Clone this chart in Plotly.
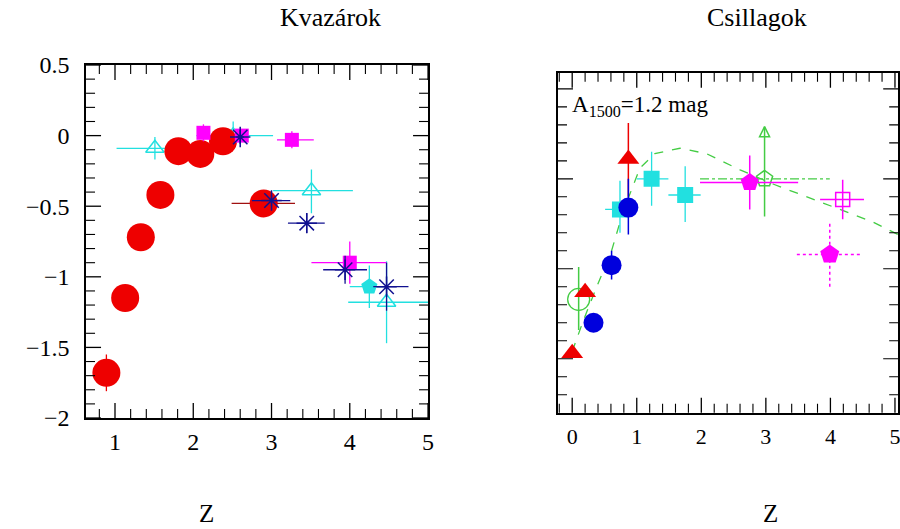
import numpy as np
import plotly.graph_objects as go

# ---------------- Left panel: Kvazárok ----------------
qc_x = [0.89, 1.13, 1.33, 1.58, 1.81, 2.09, 2.38, 2.90]
qc_y = [-1.68, -1.15, -0.72, -0.42, -0.11, -0.13, -0.04, -0.48]
qc_xm = [0, 0, 0, 0, 0, 0, 0, 0.41]
qc_xp = [0, 0, 0, 0, 0, 0, 0, 0.40]
qc_ey = [0.13, 0, 0, 0, 0, 0, 0, 0]

qt_x = [1.51, 2.51, 3.51, 4.47]
qt_y = [-0.09, 0.0, -0.39, -1.18]
qt_xm = [0.49, 0.47, 0.49, 0.49]
qt_xp = [0.49, 0.51, 0.53, 0.53]
qt_yp = [0.08, 0.10, 0.15, 0.29]
qt_ym = [0.08, 0.10, 0.16, 0.29]

qp_x = [4.25]
qp_y = [-1.07]
qp_xm = [0.25]
qp_xp = [0.22]
qp_ey = [0.15]

qs_x = [2.13, 2.62, 3.26, 4.00]
qs_y = [0.02, 0.0, -0.03, -0.90]
qs_xm = [0.05, 0.05, 0.19, 0.49]
qs_xp = [0.05, 0.05, 0.28, 0.47]
qs_ey = [0.06, 0.04, 0.06, 0.15]

qa_x = [2.60, 3.00, 3.45, 3.94, 4.47]
qa_y = [-0.01, -0.46, -0.62, -0.95, -1.07]
qa_xm = [0.05, 0.25, 0.24, 0.28, 0.17]
qa_xp = [0.05, 0.24, 0.23, 0.28, 0.28]
qa_ey = [0.05, 0.04, 0.07, 0.10, 0.17]

# ---------------- Right panel: Csillagok ----------------
st_x = [0.0, 0.20, 0.87]
st_y = [-1.97, -1.63, -0.89]
st_yp = [0, 0, 0.20]
st_ym = [0, 0, 0.21]

sc_x = [0.33, 0.61, 0.87]
sc_y = [-1.80, -1.48, -1.16]
sc_yp = [0, 0.08, 0.16]
sc_ym = [0, 0.08, 0.15]

ss_x = [0.74, 1.23, 1.75]
ss_y = [-1.17, -1.00, -1.09]
ss_xm = [0.23, 0.23, 0.26]
ss_xp = [0.23, 0.26, 0.24]
ss_yp = [0.16, 0.15, 0.16]
ss_ym = [0.13, 0.15, 0.15]

sp_x = [2.75]
sp_y = [-1.02]
sp_xm = [0.77]
sp_xp = [0.75]
sp_ey = [0.15]

sd_x = 3.99
sd_y = -1.42
sd_xm = 0.51
sd_xp = 0.49
sd_yp = 0.18
sd_ym = 0.18

so_x = [4.19]
so_y = [-1.115]
so_xm = [0.35]
so_xp = [0.33]
so_ey = [0.11]

gl_x = 2.98
gl_y = -1.00
gl_xm = 1.00
gl_xp = 1.01
gl_ym = 0.21
gl_up = 0.29

gc_x = [0.10]
gc_y = [-1.67]
gc_yp = [0.18]
gc_ym = [0.17]

curve_x = [0.0, 0.17, 0.38, 0.61, 0.79, 1.05, 1.28, 1.67, 2.08, 2.60, 3.12, 3.63, 4.05, 4.66, 5.05]
curve_y = [-1.96, -1.79, -1.60, -1.40, -1.18, -0.94, -0.86, -0.83, -0.86, -0.95, -1.03, -1.10, -1.16, -1.24, -1.31]

RED = "#ee0000"
CYAN = "#22e0e0"
MAG = "#ff00ff"
NAVY = "#101090"
BLUE = "#0000dd"
GREEN = "#44cc44"

fig = go.Figure()

def eb(arr, arrm, color, w=1.3):
    return dict(type="data", array=arr, arrayminus=arrm, color=color, thickness=w, width=0, symmetric=False)

# left panel traces
fig.add_trace(go.Scatter(x=qt_x, y=qt_y, mode="markers", xaxis="x", yaxis="y",
    marker=dict(symbol="triangle-up-open", size=16, color=CYAN, line=dict(width=1.5, color=CYAN)),
    error_x=eb(qt_xp, qt_xm, CYAN), error_y=eb(qt_yp, qt_ym, CYAN)))
fig.add_trace(go.Scatter(x=qc_x, y=qc_y, mode="markers", xaxis="x", yaxis="y",
    marker=dict(symbol="circle", size=28, color=RED),
    error_x=eb(qc_xp, qc_xm, "#a01010"), error_y=eb(qc_ey, qc_ey, RED)))
fig.add_trace(go.Scatter(x=qs_x, y=qs_y, mode="markers", xaxis="x", yaxis="y",
    marker=dict(symbol="square", size=14, color=MAG),
    error_x=eb(qs_xp, qs_xm, MAG), error_y=eb(qs_ey, qs_ey, MAG)))
fig.add_trace(go.Scatter(x=qp_x, y=qp_y, mode="markers", xaxis="x", yaxis="y",
    marker=dict(symbol="pentagon", size=17, color=CYAN),
    error_x=eb(qp_xp, qp_xm, CYAN), error_y=eb(qp_ey, qp_ey, CYAN)))
fig.add_trace(go.Scatter(x=qa_x, y=qa_y, mode="markers", xaxis="x", yaxis="y",
    marker=dict(symbol="asterisk-open", size=17, color=NAVY, line=dict(width=1.5, color=NAVY)),
    error_x=eb(qa_xp, qa_xm, NAVY), error_y=eb(qa_ey, qa_ey, NAVY)))

# right panel traces
fig.add_trace(go.Scatter(x=curve_x, y=curve_y, mode="lines", xaxis="x2", yaxis="y2",
    line=dict(color=GREEN, width=1.3, dash="dash")))
fig.add_trace(go.Scatter(x=[gl_x - gl_xm, gl_x + gl_xp], y=[gl_y, gl_y], mode="lines",
    xaxis="x2", yaxis="y2", line=dict(color=GREEN, width=1.3, dash="dashdot")))
fig.add_trace(go.Scatter(x=[gl_x, gl_x], y=[gl_y - gl_ym, gl_y + gl_up], mode="lines",
    xaxis="x2", yaxis="y2", line=dict(color=GREEN, width=1.5)))
fig.add_trace(go.Scatter(x=[gl_x], y=[gl_y + gl_up], mode="markers", xaxis="x2", yaxis="y2",
    marker=dict(symbol="arrow-up-open", size=10, color=GREEN, line=dict(width=1.5, color=GREEN))))
fig.add_trace(go.Scatter(x=[gl_x], y=[gl_y], mode="markers", xaxis="x2", yaxis="y2",
    marker=dict(symbol="pentagon-open", size=17, color=GREEN, line=dict(width=1.5, color=GREEN))))
fig.add_trace(go.Scatter(x=gc_x, y=gc_y, mode="markers", xaxis="x2", yaxis="y2",
    marker=dict(symbol="circle-open", size=22, color=GREEN, line=dict(width=1.3, color=GREEN)),
    error_y=eb(gc_yp, gc_ym, GREEN, 1.5)))
fig.add_trace(go.Scatter(x=ss_x, y=ss_y, mode="markers", xaxis="x2", yaxis="y2",
    marker=dict(symbol="square", size=16, color=CYAN),
    error_x=eb(ss_xp, ss_xm, CYAN), error_y=eb(ss_yp, ss_ym, CYAN)))
fig.add_trace(go.Scatter(x=st_x, y=st_y, mode="markers", xaxis="x2", yaxis="y2",
    marker=dict(symbol="triangle-up", size=19, color=RED),
    error_y=eb(st_yp, st_ym, RED, 1.5)))
fig.add_trace(go.Scatter(x=sc_x, y=sc_y, mode="markers", xaxis="x2", yaxis="y2",
    marker=dict(symbol="circle", size=20, color=BLUE),
    error_y=eb(sc_yp, sc_ym, BLUE, 1.5)))
fig.add_trace(go.Scatter(x=sp_x, y=sp_y, mode="markers", xaxis="x2", yaxis="y2",
    marker=dict(symbol="pentagon", size=19, color=MAG),
    error_x=eb(sp_xp, sp_xm, MAG, 1.5), error_y=eb(sp_ey, sp_ey, MAG, 1.5)))
fig.add_trace(go.Scatter(x=[sd_x - sd_xm, sd_x + sd_xp, None, sd_x, sd_x],
    y=[sd_y, sd_y, None, sd_y - sd_ym, sd_y + sd_yp], mode="lines", xaxis="x2", yaxis="y2",
    line=dict(color=MAG, width=1.5, dash="dot")))
fig.add_trace(go.Scatter(x=[sd_x], y=[sd_y], mode="markers", xaxis="x2", yaxis="y2",
    marker=dict(symbol="pentagon", size=20, color=MAG)))
fig.add_trace(go.Scatter(x=so_x, y=so_y, mode="markers", xaxis="x2", yaxis="y2",
    marker=dict(symbol="square-open", size=14, color=MAG, line=dict(width=1.5, color=MAG)),
    error_x=eb(so_xp, so_xm, MAG, 1.5), error_y=eb(so_ey, so_ey, MAG, 1.5)))

SERIF = "Liberation Serif"
tickfont = dict(family=SERIF, size=24, color="black")

def axis(**kw):
    d = dict(showline=True, linecolor="black", linewidth=1.6, mirror=True, automargin=False,
             ticks="", showgrid=False, zeroline=False, tickfont=tickfont, ticklabeloverflow="allow")
    d.update(kw)
    return d

W, H = 900, 529
LX = dict(domain=[0.0956, 0.4756], range=[0.63, 5.0], tickvals=[1, 2, 3, 4, 5])
LY = dict(domain=[0.2098, 0.8771], range=[-2.0, 0.5], dtick=0.5, tick0=0)
RX = dict(domain=[0.62, 0.998], range=[-0.22, 5.05], tickvals=[0, 1, 2, 3, 4, 5])
RY = dict(domain=[0.2198, 0.8626], range=[-2.30, -0.41], dtick=0.5, tick0=-1)

# frame tick marks (inside, on all four sides) drawn as shapes
MAJ, MIN = 15, 9
shapes = []

def frame_ticks(xa, ya, XD, YD, xmaj, xmin_step, ymaj, ymin_step):
    wpx = (XD["domain"][1] - XD["domain"][0]) * W
    hpx = (YD["domain"][1] - YD["domain"][0]) * H
    xs = np.round(np.arange(np.ceil(XD["range"][0] / xmin_step) * xmin_step, XD["range"][1] + 1e-9, xmin_step), 3)
    ys = np.round(np.arange(np.ceil(YD["range"][0] / ymin_step) * ymin_step, YD["range"][1] + 1e-9, ymin_step), 3)
    for v in xs:
        L = (MAJ if abs(v / xmaj - round(v / xmaj)) < 1e-6 else MIN) / hpx
        w = 1.3 if L * hpx == MAJ else 1.1
        for a, b in ((0, L), (1, 1 - L)):
            shapes.append(dict(type="line", xref=xa, yref=ya + " domain", x0=v, x1=v, y0=a, y1=b,
                               line=dict(color="black", width=w)))
    for v in ys:
        L = (MAJ if abs(v / ymaj - round(v / ymaj)) < 1e-6 else MIN) / wpx
        w = 1.3 if L * wpx == MAJ else 1.1
        for a, b in ((0, L), (1, 1 - L)):
            shapes.append(dict(type="line", xref=xa + " domain", yref=ya, x0=a, x1=b, y0=v, y1=v,
                               line=dict(color="black", width=w)))

frame_ticks("x", "y", LX, LY, 1.0, 0.2, 0.5, 0.1)
frame_ticks("x2", "y2", RX, RY, 1.0, 0.2, 0.5, 0.1)

def note(text, px, py, size, **kw):
    d = dict(text=text, x=px / W, y=1 - py / H, xref="paper", yref="paper", showarrow=False,
             xanchor="center", yanchor="middle", font=dict(family=SERIF, size=size, color="black"))
    d.update(kw)
    return d

fig.update_layout(
    template="none",
    width=W, height=H, margin=dict(l=0, r=0, t=0, b=0, pad=0),
    paper_bgcolor="white", plot_bgcolor="white", showlegend=False,
    xaxis=axis(**LX, ticklabelstandoff=1, anchor="y"),
    yaxis=axis(**LY, ticklabelstandoff=10, anchor="x"),
    xaxis2=axis(**RX, ticklabelstandoff=3, anchor="y2",
                tickfont=dict(family=SERIF, size=22, color="black")),
    yaxis2=axis(**RY, showticklabels=False, anchor="x2"),
    shapes=shapes,
    annotations=[
        note("Kvazárok", 330, 18, 26),
        note("Csillagok", 757, 18, 26),
        note("Z", 206, 513, 25),
        note("Z", 770, 513, 25),
        note("A<sub>1500</sub>=1.2 mag", 570, 106, 23, xanchor="left"),
    ],
)

fig.write_html("out.html")
